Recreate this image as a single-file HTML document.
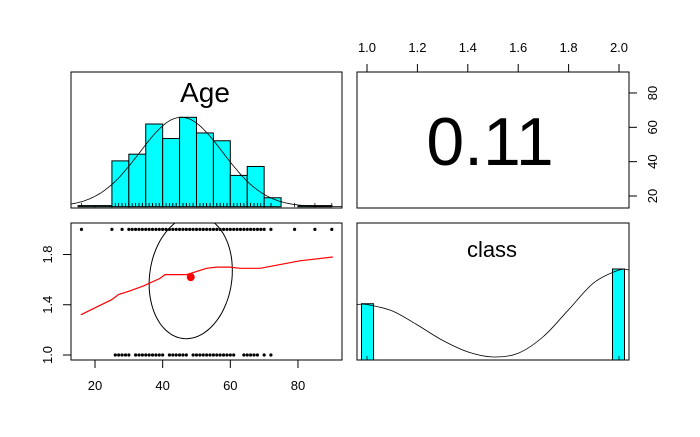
<!DOCTYPE html>
<html><head><meta charset="utf-8"><style>
html,body{margin:0;padding:0;background:#fff;}
svg text{font-family:"Liberation Sans",Arial,sans-serif;}
</style></head><body>
<svg id="chart" width="700" height="432" viewBox="0 0 700 432" xmlns="http://www.w3.org/2000/svg">
<defs>
<clipPath id="clipBL"><rect x="71" y="223" width="271" height="137"/></clipPath>
<clipPath id="clipTL"><rect x="71" y="72" width="271" height="136"/></clipPath>
</defs>
<g id="g"></g>
</svg>
<script>
// ---- data ----
const histBreaks = [15,20,25,30,35,40,45,50,55,60,65,70,75,80,85,90];
const histCounts = [1,1,41,47,74,61,80,66,59,28,36,8,0,1,1];
const ageMean = 45.5;
const ageSd = 12.3;
const classMean = 1.62;
const classSd = 0.49;
const corrR = 0.11;
const corrLabel = "0.11";
const ageClass2 = [16,25,28,30,31,32,33,34,35,36,37,38,39,40,41,42,43,44,45,46,47,48,49,50,51,52,53,54,55,56,57,58,59,60,61,62,63,64,65,66,67,68,69,70,72,79,85,90];
const ageClass1 = [26,27,28,29,30,32,33,34,35,36,37,38,39,40,42,43,44,45,46,47,49,50,51,52,53,54,55,56,57,58,59,60,61,64,65,66,67,68,70,72];
const loessAge = [15.8,24.9,26.9,30.3,34.3,39.2,40.7,47.1,53,56,59.9,62.9,68.8,72.7,80.6,90.3];
const loessVal = [1.32,1.44,1.48,1.51,1.55,1.61,1.64,1.64,1.69,1.70,1.70,1.69,1.69,1.71,1.75,1.78];
const classBins = [1,2];
const classCounts = [34,55];
const classDensX = [0.96,1.0,1.1,1.2,1.3,1.4,1.5,1.6,1.7,1.8,1.9,2.0,2.04];
const classDensY = [0.41,0.41,0.36,0.25,0.13,0.04,0.0,0.03,0.16,0.37,0.58,0.68,0.68];
const ageTicks = [20,40,60,80];
const ageTicksRight = [20,40,60,80];
const classTicksLeft = [1.0,1.4,1.8];
const classTicksTop = [1.0,1.2,1.4,1.6,1.8,2.0];

// ---- scales ----
const xAge = a => 95 + (a-20)*3.383;
const yClassBL = v => 355 - (v-1)*125.6;
const xClassR = c => 367 + (c-1)*252;
const yAgeTR = a => 196 - (a-20)*1.717;
const yHist = c => 206.7 - c*(89.4/80);
const yClassHist = c => 360 - c*(91/55);
const yClassDens = d => 357 - d*(87/0.68);

const NS="http://www.w3.org/2000/svg";
const g=document.getElementById('g');
function el(tag,attrs,parent){const e=document.createElementNS(NS,tag);for(const k in attrs)e.setAttribute(k,attrs[k]);(parent||g).appendChild(e);return e;}

[[71,72,'age-histogram-panel'],[357,72,'correlation-panel'],[71,223,'scatter-panel'],[357,223,'class-histogram-panel']].forEach(p=>{
  const r=el('rect',{x:p[0],y:p[1],width:p[0]===71?271:272,height:p[1]===72?136:137,fill:'none',stroke:'#000','stroke-width':1});
  
  
});

const tl=el('g',{'clip-path':'url(#clipTL)'});
histCounts.forEach((c,i)=>{
  const x0=xAge(histBreaks[i]),x1=xAge(histBreaks[i+1]);
  const b=el('rect',{x:x0,y:yHist(c),width:x1-x0,height:206.7-yHist(c),fill:'#00ffff',stroke:'#000','stroke-width':1},tl);
  
  
});
let dpath='';
for(let a=12;a<=93;a+=0.5){const d=Math.exp(-0.5*Math.pow((a-ageMean)/ageSd,2));dpath+=(dpath?'L':'M')+xAge(a).toFixed(1)+','+(206.7-d*89.4).toFixed(1);}
const dc=el('path',{d:dpath,fill:'none',stroke:'#000','stroke-width':0.8},tl);


ageClass2.concat(ageClass1).forEach(a=>{
  const t=el('line',{x1:xAge(a),x2:xAge(a),y1:203,y2:207,stroke:'#000','stroke-width':0.8},tl);
  
  
});
const at=el('text',{x:205,y:102,'font-size':28,'text-anchor':'middle'});at.textContent='Age';



const ct=el('text',{x:490,y:165,'font-size':68,'text-anchor':'middle'});ct.textContent=corrLabel;



const bl=el('g',{'clip-path':'url(#clipBL)'});
ageClass2.forEach(a=>{const p=el('circle',{cx:xAge(a),cy:yClassBL(2),r:1.6,fill:'#000'},bl);
  
  });
ageClass1.forEach(a=>{const p=el('circle',{cx:xAge(a),cy:yClassBL(1),r:1.6,fill:'#000'},bl);
  
  });
let ep='';const dd=Math.acos(corrR);
for(let i=0;i<=100;i++){const th=i/100*2*Math.PI;const ex=ageMean+2.8+ageSd*Math.cos(th+dd/2);const ey=classMean+classSd*Math.cos(th-dd/2);ep+=(i?'L':'M')+xAge(ex).toFixed(1)+','+yClassBL(ey).toFixed(1);}
const ell=el('path',{d:ep,fill:'none',stroke:'#000','stroke-width':1},bl);


const lp=loessAge.map((a,i)=>(i?'L':'M')+xAge(a).toFixed(1)+','+yClassBL(loessVal[i]).toFixed(1)).join('');
const lo=el('path',{d:lp,fill:'none',stroke:'#ff0000','stroke-width':1.2},bl);


const md=el('circle',{cx:xAge(48.3),cy:yClassBL(classMean),r:4,fill:'#ff0000'},bl);



classBins.forEach((c,i)=>{
  const x0=c===1?361.5:612.5;
  const b=el('rect',{x:x0,y:yClassHist(classCounts[i]),width:12,height:360-yClassHist(classCounts[i]),fill:'#00ffff',stroke:'#000','stroke-width':1});
  
  
  const t=el('line',{x1:xClassR(c),x2:xClassR(c),y1:356,y2:360,stroke:'#000','stroke-width':0.8});
  
  
});
const pts=classDensX.map((x,i)=>[xClassR(x),yClassDens(classDensY[i])]);
let cp='M'+pts[0][0]+','+pts[0][1];
for(let i=0;i<pts.length-1;i++){const p0=pts[Math.max(0,i-1)],p1=pts[i],p2=pts[i+1],p3=pts[Math.min(pts.length-1,i+2)];
cp+='C'+(p1[0]+(p2[0]-p0[0])/6).toFixed(1)+','+(p1[1]+(p2[1]-p0[1])/6).toFixed(1)+' '+(p2[0]-(p3[0]-p1[0])/6).toFixed(1)+','+(p2[1]-(p3[1]-p1[1])/6).toFixed(1)+' '+p2[0].toFixed(1)+','+p2[1].toFixed(1);}
const cd=el('path',{d:cp,fill:'none',stroke:'#000','stroke-width':0.8});


const clt=el('text',{x:492,y:257,'font-size':22,'text-anchor':'middle'});clt.textContent='class';



ageTicks.forEach(a=>{
  el('line',{x1:xAge(a),x2:xAge(a),y1:360,y2:368,stroke:'#000'});
  const t=el('text',{x:xAge(a),y:390,'font-size':13,'text-anchor':'middle'});t.textContent=a;
  
  
});
classTicksLeft.forEach(v=>{
  const y=yClassBL(v);
  el('line',{x1:63,x2:71,y1:y,y2:y,stroke:'#000'});
  const t=el('text',{x:0,y:0,'font-size':13,'text-anchor':'middle',transform:'translate(52,'+y+') rotate(-90)'});t.textContent=v.toFixed(1);
  
  
});
classTicksTop.forEach(v=>{
  const x=xClassR(v);
  el('line',{x1:x,x2:x,y1:64,y2:72,stroke:'#000'});
  const t=el('text',{x:x,y:52,'font-size':13,'text-anchor':'middle'});t.textContent=v.toFixed(1);
  
  
});
ageTicksRight.forEach(a=>{
  const y=yAgeTR(a);
  el('line',{x1:629,x2:637,y1:y,y2:y,stroke:'#000'});
  const t=el('text',{x:0,y:0,'font-size':13,'text-anchor':'middle',transform:'translate(657,'+y+') rotate(-90)'});t.textContent=a;
  
  
});
</script>
</body></html>
